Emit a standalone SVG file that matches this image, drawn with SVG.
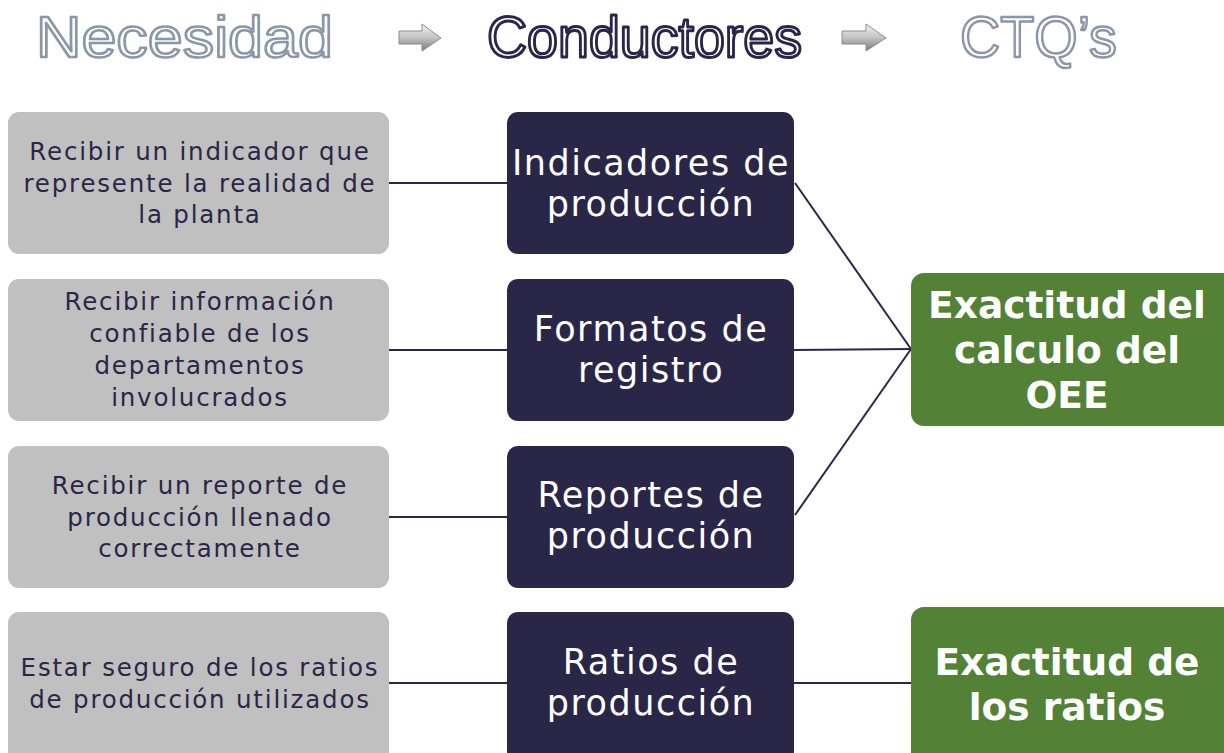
<svg xmlns="http://www.w3.org/2000/svg" width="1224" height="753" viewBox="0 0 1224 753">
<defs>
<linearGradient id="arrowGrad" x1="0" y1="0" x2="0" y2="1">
<stop offset="0" stop-color="#f4f4f4"/>
<stop offset="0.5" stop-color="#c4c4c4"/>
<stop offset="1" stop-color="#7a7a7a"/>
</linearGradient>
<style>
.title{font-family:"Liberation Sans","DejaVu Sans",sans-serif;font-size:58px;fill:#ffffff;stroke-linejoin:round}
.tgray{stroke:#8a97a8;stroke-width:2.5}
.tnavy{stroke:#2a2648;stroke-width:3}
.need{fill:#c0c0c0}
.drv{fill:#2a2648}
.ctq{fill:#538135}
.tneed{font-family:"DejaVu Sans",sans-serif;font-size:24.5px;letter-spacing:1.8px;fill:#2a2648;text-anchor:middle}
.tdrv{font-family:"DejaVu Sans",sans-serif;font-size:35px;letter-spacing:1.5px;fill:#ffffff;text-anchor:middle}
.tctq{font-family:"DejaVu Sans",sans-serif;font-size:37.5px;font-weight:bold;fill:#ffffff;text-anchor:middle}
.conn{stroke:#2a2648;stroke-width:2;fill:none}
.arr{fill:url(#arrowGrad);stroke:#8c8c8c;stroke-width:1}
</style>
</defs>
<rect width="1224" height="753" fill="#ffffff"/>
<g id="header">
<text class="title tgray" x="36" y="57" textLength="297" lengthAdjust="spacingAndGlyphs">Necesidad</text>
<polygon class="arr" points="399,31 422,31 422,24 441,38 422,51 422,44 399,44"/>
<text class="title tnavy" x="487" y="57" textLength="315" lengthAdjust="spacingAndGlyphs">Conductores</text>
<polygon class="arr" points="842,31 866,31 866,24 886,38 866,51 866,44 842,44"/>
<text class="title tgray" x="960" y="57" textLength="157" lengthAdjust="spacingAndGlyphs">CTQ’s</text>
</g>
<g id="connectors">
<line class="conn" x1="389" y1="183" x2="507" y2="183"/>
<line class="conn" x1="389" y1="350" x2="507" y2="350"/>
<line class="conn" x1="389" y1="517" x2="507" y2="517"/>
<line class="conn" x1="389" y1="683" x2="507" y2="683"/>
<line class="conn" x1="795" y1="183" x2="911" y2="349"/>
<line class="conn" x1="793" y1="350" x2="911" y2="349"/>
<line class="conn" x1="795" y1="515" x2="911" y2="349"/>
<line class="conn" x1="793" y1="683" x2="911" y2="683"/>
</g>
<g id="need1">
<rect class="need" x="8" y="112" width="381" height="142" rx="11"/>
<text class="tneed" x="200" y="160">Recibir un indicador que</text>
<text class="tneed" x="200" y="192">represente la realidad de</text>
<text class="tneed" x="200" y="223">la planta</text>
</g>
<g id="need2">
<rect class="need" x="8" y="279" width="381" height="142" rx="11"/>
<text class="tneed" x="200" y="310">Recibir información</text>
<text class="tneed" x="200" y="342">confiable de los</text>
<text class="tneed" x="200" y="374">departamentos</text>
<text class="tneed" x="200" y="406">involucrados</text>
</g>
<g id="need3">
<rect class="need" x="8" y="446" width="381" height="142" rx="11"/>
<text class="tneed" x="200" y="494">Recibir un reporte de</text>
<text class="tneed" x="200" y="526">producción llenado</text>
<text class="tneed" x="200" y="557">correctamente</text>
</g>
<g id="need4">
<rect class="need" x="8" y="612" width="381" height="150" rx="11"/>
<text class="tneed" x="200" y="676">Estar seguro de los ratios</text>
<text class="tneed" x="200" y="708">de producción utilizados</text>
</g>
<g id="drv1">
<rect class="drv" x="507" y="112" width="287" height="142" rx="11"/>
<text class="tdrv" x="651" y="175">Indicadores de</text>
<text class="tdrv" x="651" y="216">producción</text>
</g>
<g id="drv2">
<rect class="drv" x="507" y="279" width="287" height="142" rx="11"/>
<text class="tdrv" x="651" y="341">Formatos de</text>
<text class="tdrv" x="651" y="382">registro</text>
</g>
<g id="drv3">
<rect class="drv" x="507" y="446" width="287" height="142" rx="11"/>
<text class="tdrv" x="651" y="507">Reportes de</text>
<text class="tdrv" x="651" y="548">producción</text>
</g>
<g id="drv4">
<rect class="drv" x="507" y="612" width="287" height="150" rx="11"/>
<text class="tdrv" x="651" y="674">Ratios de</text>
<text class="tdrv" x="651" y="715">producción</text>
</g>
<g id="ctq1">
<rect class="ctq" x="911" y="273" width="325" height="153" rx="13"/>
<text class="tctq" x="1067" y="318">Exactitud del</text>
<text class="tctq" x="1067" y="363">calculo del</text>
<text class="tctq" x="1067" y="408">OEE</text>
</g>
<g id="ctq2">
<rect class="ctq" x="911" y="607" width="325" height="160" rx="13"/>
<text class="tctq" x="1067" y="675">Exactitud de</text>
<text class="tctq" x="1067" y="720">los ratios</text>
</g>
</svg>
